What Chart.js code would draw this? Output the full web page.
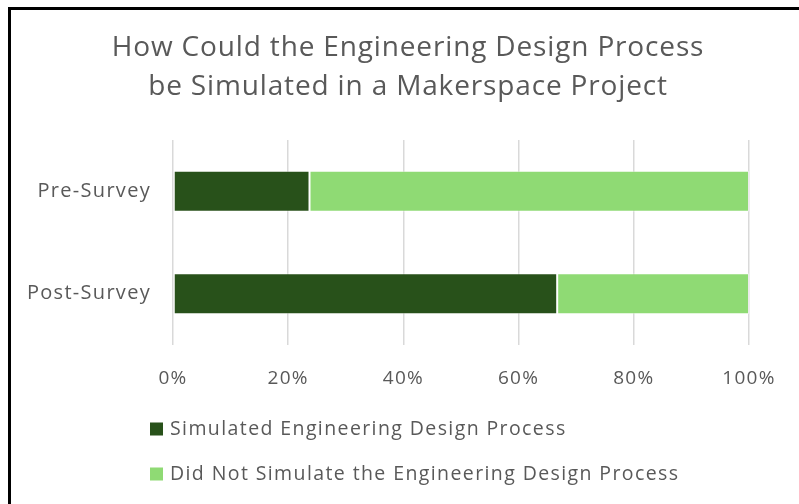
<!DOCTYPE html>
<html>
<head>
<meta charset="utf-8">
<script src="https://cdn.jsdelivr.net/npm/chart.js@4/dist/chart.umd.min.js"></script>
<style>
  html, body { margin: 0; padding: 0; background: #ffffff; overflow: hidden; }
  #frame {
    position: absolute; left: 8px; top: 7px; width: 1000px; height: 1000px;
    border-left: 3px solid #000; border-top: 3px solid #000; box-sizing: border-box;
  }
  #wrap { position: absolute; left: 0; top: 0; width: 799px; height: 504px; }
</style>
</head>
<body>
<div id="frame"></div>
<div id="wrap"><canvas id="chart" width="799" height="504"></canvas></div>
<script>
// Survey groups and the share (%) of responses in each group
const categories = ['Pre-Survey', 'Post-Survey'];
const simulated = [23.7, 66.7];
const notSimulated = [76.3, 33.3];
const seriesNames = ['Simulated Engineering Design Process', 'Did Not Simulate the Engineering Design Process'];
const titleLines = ['How Could the Engineering Design Process', 'be Simulated in a Makerspace Project'];
const tickValues = [0, 20, 40, 60, 80, 100];

const FONT = "'Open Sans', sans-serif";
const TEXT = '#595959';

// Slightly open tracking for the axis text
const tracking = {
  id: 'tracking',
  beforeUpdate(chart) { chart.ctx.letterSpacing = '1.3px'; },
  beforeDraw(chart) { chart.ctx.letterSpacing = '1.3px'; }
};

// Two-line heading centred over the whole figure
const heading = {
  id: 'heading',
  afterDraw(chart) {
    const ctx = chart.ctx;
    ctx.save();
    ctx.letterSpacing = '0.85px';
    ctx.font = '28px ' + FONT;
    ctx.fillStyle = TEXT;
    ctx.textAlign = 'center';
    ctx.textBaseline = 'middle';
    titleLines.forEach((line, i) => ctx.fillText(line, 408, 48 + i * 39));
    ctx.restore();
  }
};

// Legend stacked vertically under the axis, left-aligned
const listLegend = {
  id: 'listLegend',
  afterDraw(chart) {
    const ctx = chart.ctx;
    ctx.save();
    ctx.letterSpacing = '1.4px';
    ctx.font = '19.5px ' + FONT;
    ctx.textBaseline = 'middle';
    ctx.textAlign = 'left';
    chart.data.datasets.forEach((ds, i) => {
      const y = 429 + i * 45;
      ctx.fillStyle = ds.backgroundColor;
      ctx.fillRect(150, y - 6.5, 13, 13);
      ctx.fillStyle = TEXT;
      ctx.fillText(ds.label, 170, y);
    });
    ctx.restore();
  }
};

new Chart(document.getElementById('chart'), {
  type: 'bar',
  data: {
    labels: categories,
    datasets: [
      { label: seriesNames[0], data: simulated, backgroundColor: '#28511a',
        borderColor: 'rgba(255,255,255,0.45)', borderWidth: 1, borderSkipped: false },
      { label: seriesNames[1], data: notSimulated, backgroundColor: '#8fda74',
        borderColor: 'rgba(255,255,255,0.45)', borderWidth: 1, borderSkipped: false }
    ]
  },
  options: {
    indexAxis: 'y',
    responsive: false,
    animation: false,
    devicePixelRatio: 1,
    layout: { padding: { left: 0, right: 50, top: 140, bottom: 109 } },
    datasets: { bar: { categoryPercentage: 0.4, barPercentage: 1 } },
    plugins: {
      legend: { display: false },
      tooltip: { enabled: false },
      title: { display: false }
    },
    scales: {
      x: {
        stacked: true,
        min: 0, max: 100,
        afterBuildTicks(scale) { scale.ticks = tickValues.map(v => ({ value: v })); },
        afterFit(scale) { scale.height = 50; },
        grid: { color: '#d9d9d9', lineWidth: 1.5, drawTicks: false },
        border: { display: false },
        ticks: {
          color: TEXT, padding: 22,
          font: { family: FONT, size: 19 },
          callback: v => v + '%'
        }
      },
      y: {
        stacked: true,
        afterFit(scale) { scale.width = 173; },
        grid: { display: false, drawTicks: false },
        border: { display: false },
        ticks: { color: TEXT, padding: 22, font: { family: FONT, size: 20 } }
      }
    }
  },
  plugins: [tracking, heading, listLegend]
});
</script>
</body>
</html>
